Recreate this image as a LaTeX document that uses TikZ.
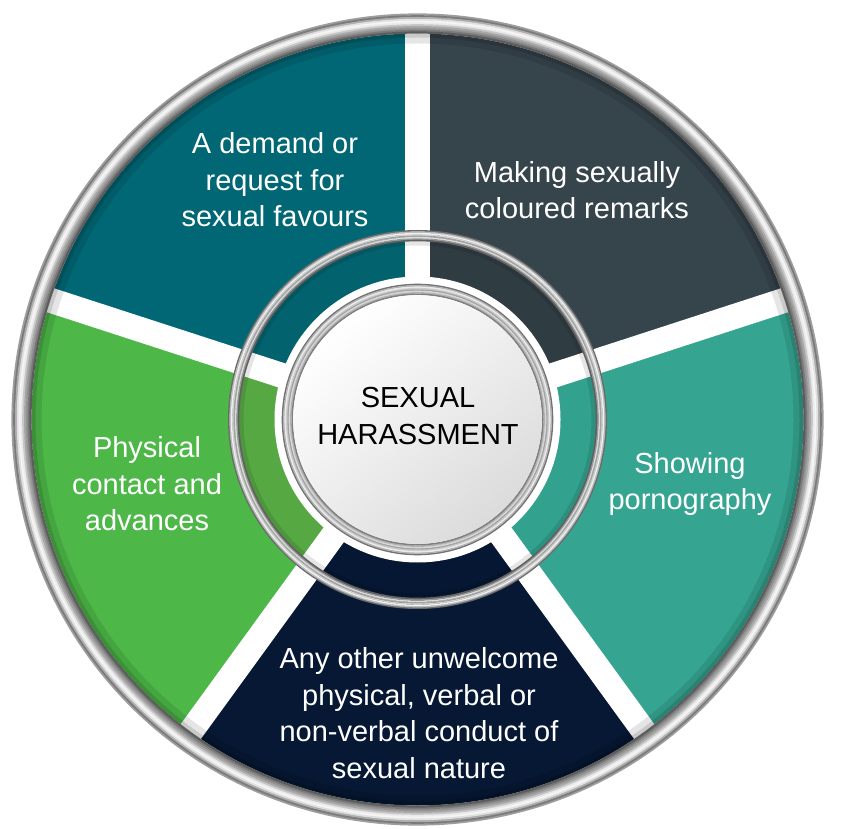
\documentclass[tikz,border=0pt]{standalone}
\usepackage{fontspec}
\setmainfont{Liberation Sans}
\definecolor{tealA}{HTML}{016774}
\definecolor{slateA}{HTML}{36444C}
\definecolor{tealB}{HTML}{35A591}
\definecolor{navyA}{HTML}{061834}
\definecolor{greenA}{HTML}{4DB848}
\definecolor{tealAi}{HTML}{02636F}
\definecolor{slateAi}{HTML}{2F3D43}
\definecolor{tealBi}{HTML}{32A18E}
\definecolor{navyAi}{HTML}{061733}
\definecolor{greenAi}{HTML}{56A843}
\tikzset{
  lbl/.style={text=white, align=center, font=\fontsize{29}{36.5}\selectfont, inner sep=0pt},
}
\begin{document}
\begin{tikzpicture}[x=1pt,y=1pt]
\useasboundingbox (0,0) rectangle (842,828);
\coordinate (C) at (417.5,408.5);
% outer sectors
\foreach \a/\col in {18/slateA, 90/tealA, 162/greenA, 234/navyA, 306/tealB}
  \fill[\col] (C) -- ++(\a:386) arc[start angle=\a, end angle=\a+72, radius=386] -- cycle;
% inner band sectors
\foreach \a/\col in {18/slateAi, 90/tealAi, 162/greenAi, 234/navyAi, 306/tealBi}
  \fill[\col] (C) -- ++(\a:180) arc[start angle=\a, end angle=\a+72, radius=180] -- cycle;
% white gaps
\foreach \a in {18,90,162,234,306}{
  \begin{scope}[shift={(C)}, rotate=\a]
    \fill[white] (0,-12.5) rectangle (387,12.5);
  \end{scope}
}
% rim shadow
\draw[black, opacity=.10, line width=10] (C) circle (381);
\draw[black, opacity=.12, line width=4] (C) circle (384);
% shadow inside middle ring
\draw[black, opacity=.10, line width=5] (C) circle (176.5);
% white area around inner ring
\fill[white] (C) circle (143);
% outer metallic ring
\foreach \r/\k in {405/38, 403.2/52, 401.4/32, 399.6/12, 397.8/4, 396/8, 394.2/22, 392.4/34, 390.6/42, 388.8/52, 387/64}
  \draw[black!\k, line width=2.2] (C) circle (\r);
% middle metallic ring
\foreach \r/\k in {188.7/58, 187.3/28, 185.9/6, 184.5/18, 183.1/36, 181.7/14, 180.3/40, 179/62}
  \draw[black!\k, line width=1.6] (C) circle (\r);
% inner metallic ring
\foreach \r/\k in {135/55, 133.6/30, 132.2/8, 130.8/20, 129.4/36, 128/16, 126.6/30, 125.2/50}
  \draw[black!\k, line width=1.6] (C) circle (\r);
% centre disk
\shade[shading=axis, top color=white, bottom color=black!14, shading angle=40] (C) circle (124.3);
% labels
\node[lbl] (t1) at (275,648) {A demand or\\request for\\sexual favours};
\node[lbl] (t2) at (577,638) {Making sexually\\coloured remarks};
\node[lbl] (t3) at (690,344) {Showing\\pornography};
\node[lbl] (t4) at (419,115) {Any other unwelcome\\physical, verbal or\\non-verbal conduct of\\sexual nature};
\node[lbl] (t5) at (147,344) {Physical\\contact and\\advances};
\node[lbl, text=black] (ct) at (418,412) {SEXUAL\\HARASSMENT};
\end{tikzpicture}
\end{document}
